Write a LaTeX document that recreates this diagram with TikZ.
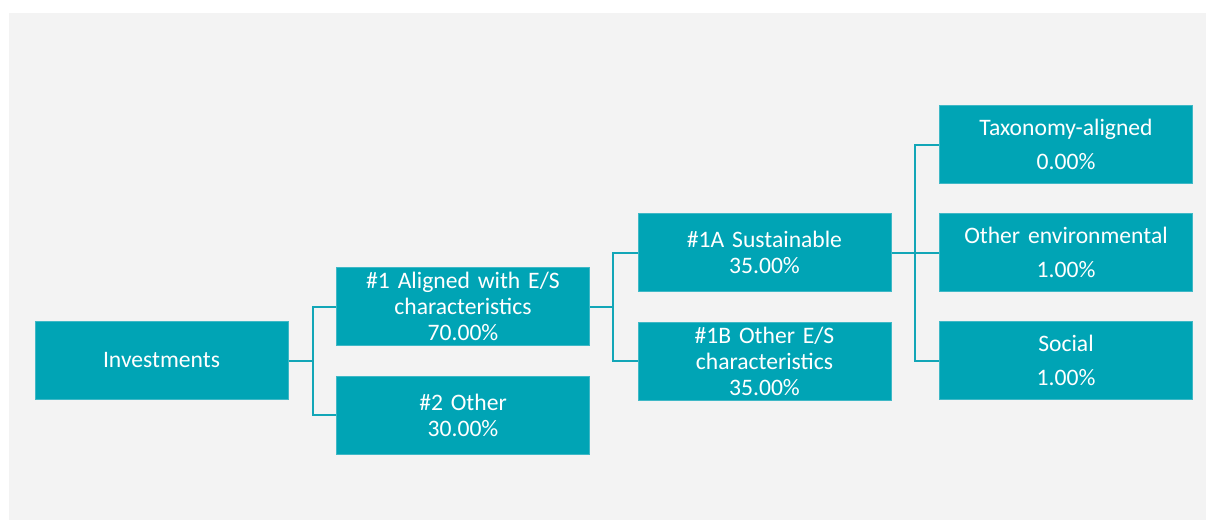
\documentclass[tikz,border=0pt]{standalone}
\usepackage{fontspec}
\setmainfont{Carlito}
\definecolor{boxfill}{HTML}{00A4B5}
\definecolor{boxedge}{HTML}{3FB8C6}
\definecolor{wire}{HTML}{12A6B7}
\definecolor{bg}{HTML}{F3F3F3}
\begin{document}
\begin{tikzpicture}[x=1pt,y=-1pt,
  catbox/.style={rectangle, draw=boxedge, fill=boxfill, line width=1pt,
    minimum width=253pt, minimum height=78pt, inner sep=0pt,
    text=white, text width=248pt, align=center,
    font=\fontsize{23.6}{26}\selectfont},
  leafbox/.style={catbox, font=\fontsize{23.6}{34}\selectfont},
  link/.style={draw=wire, line width=2pt}]
\useasboundingbox (0,0) rectangle (1206,520);
\fill[white] (0,0) rectangle (1206,520);
\fill[bg] (9,13) rectangle (1206,520);

\node[catbox] (inv) at (161.5,360.5) {Investments};
\node[catbox] (a1) at (463,306.5) {\#1 Aligned with E/S\\characteristics\\70.00\%};
\node[catbox] (o2) at (463,415) {\#2 Other\\30.00\%};
\node[catbox] (s1a) at (764.5,252.5) {\#1A Sustainable\\35.00\%};
\node[catbox] (s1b) at (764.5,361) {\#1B Other E/S\\characteristics\\35.00\%};
\node[leafbox] (tax) at (1066,144.5) {Taxonomy-aligned\\0.00\%};
\node[leafbox] (env) at (1066,252.5) {Other environmental\\1.00\%};
\node[leafbox] (soc) at (1066,360.5) {Social\\1.00\%};

\coordinate (b1) at (313,360.5);
\coordinate (b2) at (613,306.5);
\coordinate (b3) at (915,252.5);

\draw[link] (inv.east) -- (b1);
\draw[link] (a1.west) -| (b1);
\draw[link] (o2.west) -| (b1);
\draw[link] (a1.east) -- (b2);
\draw[link] (s1a.west) -| (b2);
\draw[link] (s1b.west) -| (b2);
\draw[link] (s1a.east) -- (b3);
\draw[link] (env.west) -- (b3);
\draw[link] (tax.west) -| (b3);
\draw[link] (soc.west) -| (b3);
\end{tikzpicture}
\end{document}
